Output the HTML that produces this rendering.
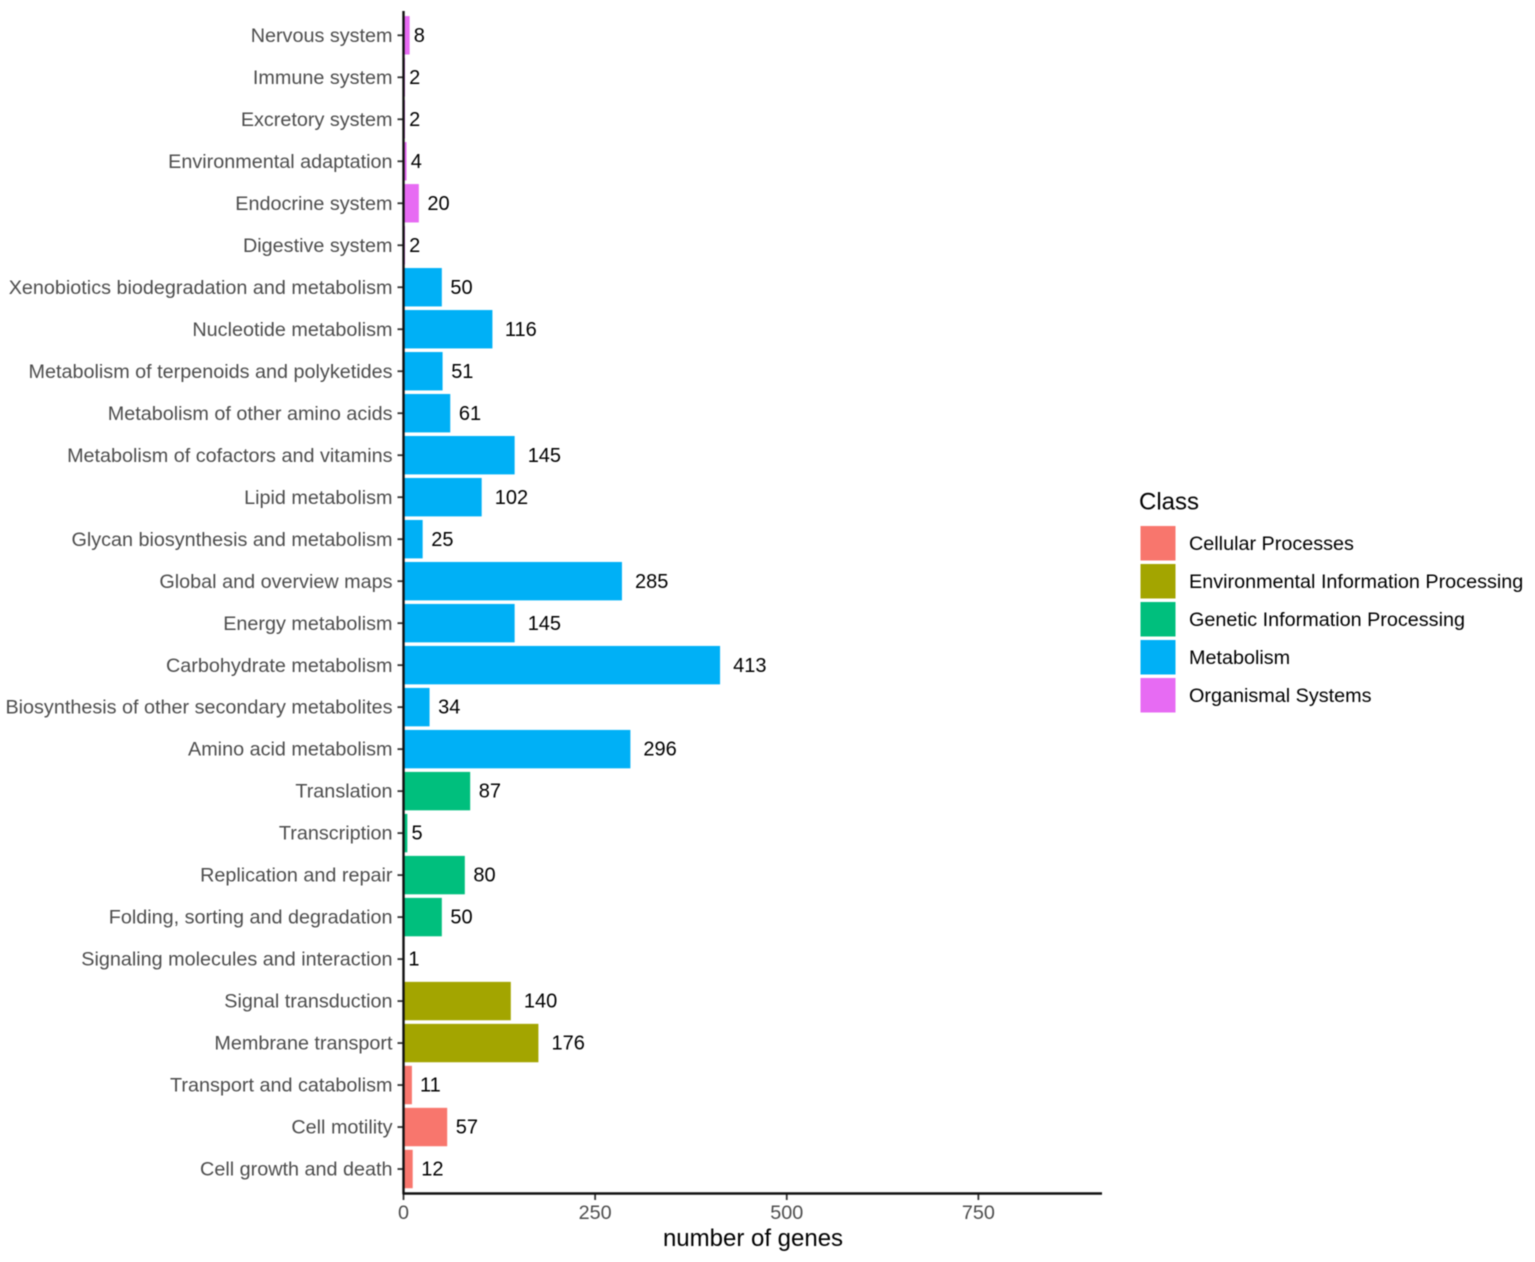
<!DOCTYPE html>
<html>
<head>
<meta charset="utf-8">
<title>KEGG classes bar chart</title>
<style>
html,body{margin:0;padding:0;background:#fff;}
svg{display:block;filter:blur(0.45px);}
text{font-family:"Liberation Sans",Arial,sans-serif;}
</style>
</head>
<body>
<svg id="chart" width="1535" height="1262" viewBox="0 0 1535 1262" xmlns="http://www.w3.org/2000/svg">
<rect width="1535" height="1262" fill="#ffffff"/>
<g id="bars"></g>
<g id="ylabels"></g>
<g id="values"></g>
<g id="xaxis"></g>
<line x1="403.5" y1="11" x2="403.5" y2="1194" stroke="#111" stroke-width="2.4"/>
<line x1="402.5" y1="1193.5" x2="1102" y2="1193.5" stroke="#111" stroke-width="2.4"/>
<text x="753" y="1246" text-anchor="middle" font-size="24" fill="#000">number of genes</text>
<g id="legend">
<text x="1139" y="509.5" font-size="24" fill="#000">Class</text>
</g>
</svg>
<script>
const categories = ["Nervous system","Immune system","Excretory system","Environmental adaptation","Endocrine system","Digestive system","Xenobiotics biodegradation and metabolism","Nucleotide metabolism","Metabolism of terpenoids and polyketides","Metabolism of other amino acids","Metabolism of cofactors and vitamins","Lipid metabolism","Glycan biosynthesis and metabolism","Global and overview maps","Energy metabolism","Carbohydrate metabolism","Biosynthesis of other secondary metabolites","Amino acid metabolism","Translation","Transcription","Replication and repair","Folding, sorting and degradation","Signaling molecules and interaction","Signal transduction","Membrane transport","Transport and catabolism","Cell motility","Cell growth and death"];
const values = [8,2,2,4,20,2,50,116,51,61,145,102,25,285,145,413,34,296,87,5,80,50,1,140,176,11,57,12];
const classIndex = [4,4,4,4,4,4,3,3,3,3,3,3,3,3,3,3,3,3,2,2,2,2,1,1,1,0,0,0];
const classNames = ["Cellular Processes","Environmental Information Processing","Genetic Information Processing","Metabolism","Organismal Systems"];
const classColors = ["#F8766D","#A3A500","#00BF7D","#00B0F6","#E76BF3"];
const xTicks = [0,250,500,750];

const NS = "http://www.w3.org/2000/svg";
function xScale(v){ return 403.5 + v * 0.7665; }
function yScale(i){ return 35.3 + i * 41.99; }
function make(tag, attrs, parent, txt){
  const el = document.createElementNS(NS, tag);
  for (const k in attrs) el.setAttribute(k, attrs[k]);
  if (txt !== undefined) el.textContent = txt;
  parent.appendChild(el);
  return el;
}
const gBars = document.getElementById("bars");
const gY = document.getElementById("ylabels");
const gV = document.getElementById("values");
const gX = document.getElementById("xaxis");
const gL = document.getElementById("legend");

categories.forEach(function(name, i){
  const y = yScale(i), v = values[i];
  const bar = make("rect", {x: xScale(0), y: y - 19.2, width: xScale(v) - xScale(0), height: 38.4, fill: classColors[classIndex[i]]}, gBars);
  
  
  const tick = make("line", {x1: 397.5, x2: 403, y1: y, y2: y, stroke: "#333", "stroke-width": 1.8}, gY);
  
  
  const lab = make("text", {x: 392.5, y: y + 6.6, "text-anchor": "end", "font-size": 19.8, fill: "#4d4d4d"}, gY, name);
  
  
  const val = make("text", {x: xScale(v), y: y + 6.6, "font-size": 20, fill: "#000"}, gV, String(v));
  
  
  val.setAttribute("x", xScale(v) + 0.4 * val.getComputedTextLength() - 0.3);
});

xTicks.forEach(function(t){
  const x = xScale(t);
  const tick = make("line", {x1: x, x2: x, y1: 1194, y2: 1200, stroke: "#333", "stroke-width": 1.8}, gX);
  
  
  const lab = make("text", {x: x, y: 1219, "text-anchor": "middle", "font-size": 19.8, fill: "#4d4d4d"}, gX, String(t));
  
  
});

classNames.forEach(function(name, i){
  const top = 526 + i * 38;
  const sw = make("rect", {x: 1140.5, y: top, width: 35, height: 34.5, fill: classColors[i]}, gL);
  
  
  const lab = make("text", {x: 1189, y: top + 24, "font-size": 19.8, fill: "#000"}, gL, name);
  
  
});
</script>
</body>
</html>
